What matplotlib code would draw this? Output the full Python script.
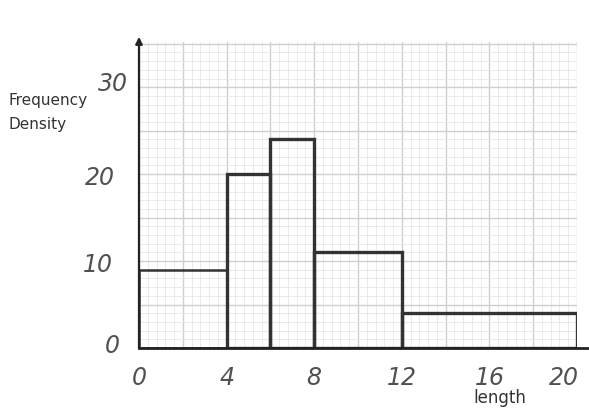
import numpy as np
import matplotlib.pyplot as plt

# class boundaries and frequency densities
edges = [0, 4, 6, 8, 12, 20]
densities = [9, 20, 24, 11, 4]
x_labels = [0, 4, 8, 12, 16, 20]
y_labels = [0, 10, 20, 30]

fig = plt.figure(figsize=(5.89, 4.08), dpi=100)
ax = fig.add_axes([139 / 589, 60 / 408, 438 / 589, 306 / 408])
ax.set_xlim(0, 20)
ax.set_ylim(0, 35.2)
for s in ax.spines.values():
    s.set_visible(False)
ax.set_xticks([])
ax.set_yticks([])

# graph paper: small squares 0.4 x 1, big squares 2 x 5
for x in np.arange(0, 20.01, 0.4):
    major = abs(x / 2 - round(x / 2)) < 1e-6
    ax.axvline(x, color="#cfcfcf" if major else "#e6e6e6",
               lw=1.0 if major else 0.6, zorder=0)
for y in np.arange(0, 35.01, 1):
    major = y % 5 == 0
    ax.axhline(y, color="#cfcfcf" if major else "#e6e6e6",
               lw=1.0 if major else 0.6, zorder=0)

widths = np.diff(edges)
bars = ax.bar(edges[:-1], densities, width=widths, align="edge", fill=False,
              edgecolor="#333333", linewidth=2.4, zorder=3)
bars[0].set_linewidth(1.8)

# axes drawn by hand
ax.plot([0, 20.6], [0, 0], color="#222222", lw=2, clip_on=False, zorder=4)
ax.annotate("", xy=(0, 35.8), xytext=(0, 0),
            arrowprops=dict(arrowstyle="-|>", color="#222222", lw=1.6,
                            mutation_scale=10, shrinkA=0, shrinkB=0),
            annotation_clip=False, zorder=4)

hand = dict(fontsize=17, color="#505050", fontstyle="italic",
            family="DejaVu Sans")
for v in x_labels:
    xp = v if v < 20 else 19.4
    ax.text(xp, -3.4, str(v), ha="center", va="center", clip_on=False, **hand)
y_pos = {0: (-1.2, 0.2), 10: (-1.9, 9.5), 20: (-1.8, 19.6), 30: (-1.2, 30.4)}
for v in y_labels:
    xp, yp = y_pos[v]
    ax.text(xp, yp, str(v), ha="center", va="center", clip_on=False, **hand)

fig.text(8 / 589, 1 - 100 / 408, "Frequency", ha="left", va="center",
         fontsize=11, color="#333333")
fig.text(8 / 589, 1 - 124 / 408, "Density", ha="left", va="center",
         fontsize=11, color="#333333")
fig.text(500 / 589, 1 - 398 / 408, "length", ha="center", va="center",
         fontsize=12, color="#333333")

fig.savefig("out.png", dpi=100, facecolor="white")
